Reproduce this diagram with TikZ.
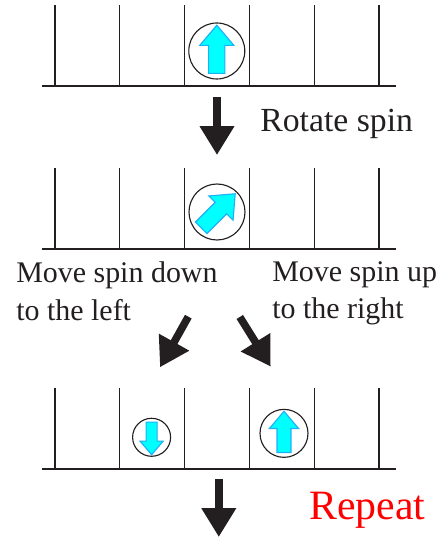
\documentclass[tikz,border=0pt]{standalone}
\usepackage{fontspec}
\setmainfont{Liberation Serif}
\usepackage{xcolor}
\usetikzlibrary{arrows.meta}
\definecolor{Ink}{HTML}{231F20}
\definecolor{SpinFill}{HTML}{00FFFF}
\definecolor{SpinEdge}{HTML}{1CB0F6}
\tikzset{
  wall/.style={color=Ink, line width=0.85pt},
  orbit/.style={draw=Ink, line width=0.8pt},
  spinarrow/.style={fill=SpinFill, draw=SpinEdge, line width=0.8pt},
  move/.style={-{Triangle[length=0.72cm, width=0.82cm]}, color=Ink, line width=0.19cm},
  caption/.style={color=Ink, anchor=base west, inner sep=0pt, font=\fontsize{21.3pt}{24pt}\selectfont},
  lattice/.pic={
    \draw[wall] (1.05,0) -- (9.9,0);
    \foreach \x in {1.375,2.995,4.615,6.235,7.855,9.475}
      \draw[wall] (\x,0) -- (\x,2.025);
  },
  spin/.pic={
    \draw[orbit] (0,0) circle (1);
    \draw[spinarrow] (0,0.92) -- (0.61,0.2) -- (0.29,0.2) -- (0.29,-0.8)
      -- (-0.29,-0.8) -- (-0.29,0.2) -- (-0.61,0.2) -- cycle;
  },
}
\begin{document}
\begin{tikzpicture}
  \useasboundingbox (0,0) rectangle (11.075,13.45);

  % Top row
  \pic at (0,11.3) {lattice};
  \pic[scale=0.7] at (5.42,12.175) {spin};
  \draw[move] (5.425,11.025) -- (5.425,9.575);
  \node[caption, font=\fontsize{24pt}{28pt}\selectfont] (rotate) at (6.5,10.16) {Rotate spin};

  % Middle row
  \pic at (0,7.225) {lattice};
  \pic[scale=0.7, rotate=-45] at (5.425,8.15) {spin};
  \node[caption] (downone) at (0.4,6.375) {Move spin down};
  \node[caption] (downtwo) at (0.4,5.43) {to the left};
  \node[caption] (upone) at (6.8,6.4) {Move spin up};
  \node[caption] (uptwo) at (6.8,5.475) {to the right};
  \draw[move] (4.708,5.533) -- (4.0,4.268);
  \draw[move] (5.995,5.525) -- (6.768,4.283);

  % Bottom row
  \pic at (0,1.725) {lattice};
  \pic[scale=0.475, rotate=180] at (3.79,2.518) {spin};
  \pic[scale=0.6] at (7.1,2.616) {spin};
  \draw[move] (5.47,1.475) -- (5.47,0.025);
  \node[caption, color=red, font=\fontsize{29.7pt}{34pt}\selectfont] (repeat) at (7.725,0.4575) {Repeat};
\end{tikzpicture}
\end{document}
